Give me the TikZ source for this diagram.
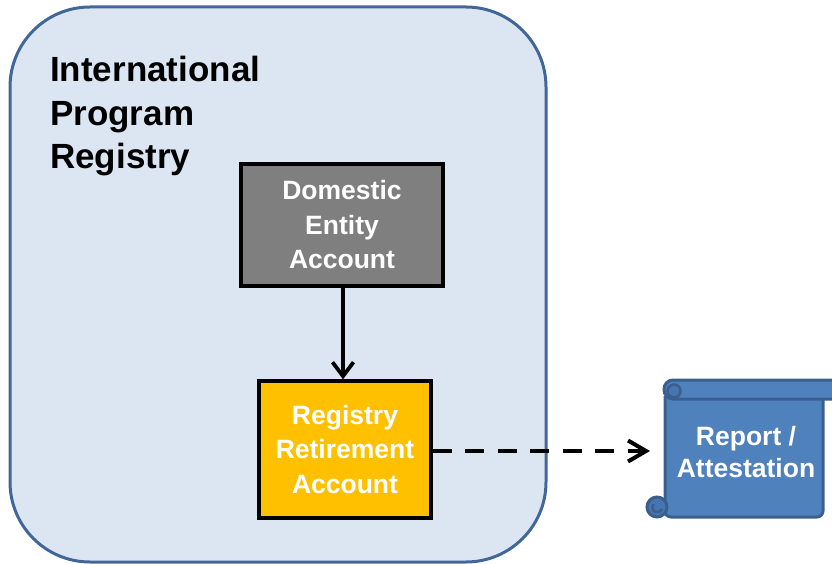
\documentclass[tikz,border=0pt]{standalone}
\usepackage{fontspec}
\setmainfont{Liberation Sans}
\usetikzlibrary{arrows.meta}

\definecolor{panelfill}{HTML}{DCE6F2}
\definecolor{panelline}{HTML}{41679A}
\definecolor{entitygray}{HTML}{7F7F7F}
\definecolor{retireyellow}{HTML}{FFC000}
\definecolor{scrollfill}{HTML}{4F81BD}
\definecolor{scrollline}{HTML}{3A5F8E}
\definecolor{scrollcurl}{HTML}{4675B0}

\tikzset{
  panel/.style={draw=panelline, fill=panelfill, line width=3pt, rounded corners=80pt},
  acctbox/.style={draw=black, line width=3.2pt, text=white, align=center,
    font=\bfseries\fontsize{26.5}{34.5}\selectfont, inner sep=0pt},
  titletext/.style={align=left, inner sep=0pt, anchor=north west,
    font=\bfseries\fontsize{35}{43.5}\selectfont},
  scrollpart/.style={draw=scrollline, fill=scrollfill, line width=3pt},
  flow/.style={line width=3.8pt, -{Straight Barb[length=14pt,width=21pt,line width=3.8pt]}},
  dashflow/.style={line width=4pt, dash pattern=on 19pt off 13.5pt,
    -{Straight Barb[length=18pt,width=21pt,line width=4pt]}},
}

\begin{document}
\begin{tikzpicture}[x=1pt, y=-1pt]
  \useasboundingbox (0,0) rectangle (832,564);

  % registry panel
  \path[panel] (10,7) rectangle (546,562);
  \node[titletext] (title) at (50,56) {International\\Program\\Registry};

  % accounts
  \node[acctbox, fill=entitygray, minimum width=202pt, minimum height=122pt]
    (dom) at (342,225) {Domestic\\Entity\\Account};
  \node[acctbox, fill=retireyellow, minimum width=172pt, minimum height=137pt]
    (reg) at (345,449.5) {Registry\\Retirement\\Account};

  % report scroll
  \begin{scope}
    \clip (0,0) rectangle (832,564);
    \draw[scrollpart, rounded corners=6pt]
      (665,396) -- (665,517) -- (823,517) -- (823,396);
    \draw[scrollpart, fill=scrollcurl] (657,507) circle (10);
    \draw[scrollline, line width=2.5pt] (662,509) arc[start angle=20, end angle=220, radius=5];
    \draw[scrollpart, rounded corners=9pt] (664,380) rectangle (850,399);
    \draw[scrollline, line width=2.5pt, fill=scrollcurl] (674,391) circle (6.5);
  \end{scope}
  \node[text=white, align=center, inner sep=0pt,
    font=\bfseries\fontsize{26.5}{32}\selectfont]
    (rep) at (746,452) {Report /\\Attestation};

  % connectors
  \coordinate (axis) at (343,0);
  \coordinate (tip) at (650,451);
  \draw[flow] (dom.south -| axis) -- (reg.north -| axis);
  \draw[dashflow] (reg.east |- tip) -- (tip);
\end{tikzpicture}
\end{document}
